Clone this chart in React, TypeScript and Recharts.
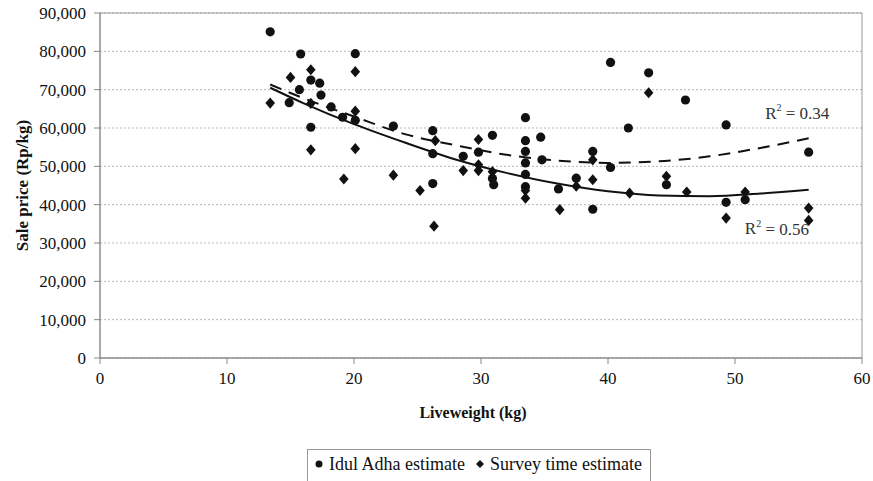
import { ScatterChart, Scatter, XAxis, YAxis, CartesianGrid, ReferenceArea, ReferenceDot } from "recharts";

// liveweight (kg), sale price (Rp/kg)
const idulAdhaPoints: [number, number][] = [
  [13.4, 85100], [15.8, 79300], [20.1, 79400], [16.6, 72500], [17.3, 71700],
  [15.7, 70000], [17.4, 68600], [14.9, 66600], [18.2, 65500], [16.6, 60200],
  [20.1, 62000], [19.1, 62800], [23.1, 60500], [26.2, 59300], [26.2, 53300],
  [26.2, 45500], [28.6, 52600], [29.8, 53700], [30.9, 58100], [30.9, 46800],
  [31.0, 45200], [33.5, 62700], [33.5, 56700], [33.5, 53900], [33.5, 50900],
  [33.5, 47900], [33.5, 44700], [34.7, 57600], [34.8, 51700], [36.1, 44100],
  [37.5, 46900], [38.8, 53900], [38.8, 38800], [40.2, 77100], [40.2, 49700],
  [41.6, 60000], [43.2, 74400], [44.6, 45200], [46.1, 67300], [49.3, 60800],
  [49.3, 40600], [50.8, 41300], [55.8, 53700],
];

const surveyPoints: [number, number][] = [
  [13.4, 66500], [15.0, 73200], [16.6, 75200], [16.6, 66400], [16.6, 54300],
  [20.1, 74700], [20.1, 64400], [20.1, 54600], [19.2, 46700], [23.1, 47700],
  [25.2, 43700], [26.3, 34400], [26.4, 56700], [28.6, 48900], [29.8, 57000],
  [29.8, 50400], [29.8, 48900], [30.9, 48600], [33.5, 43700], [33.5, 41700],
  [36.2, 38700], [37.5, 44800], [38.8, 46500], [38.8, 51700], [41.7, 43000],
  [43.2, 69200], [44.6, 47400], [46.2, 43300], [49.3, 36500], [50.8, 43300],
  [55.8, 39100], [55.8, 35900],
];

// trend curves
const trendWeights = [13.4, 16, 20, 24, 28, 32, 36, 40, 44, 48, 52, 55.8];
const trendSolid = [70500, 66500, 61000, 56200, 51800, 48300, 45500, 43500, 42400, 42200, 42900, 43900];
const trendDashed = [71350, 67800, 63000, 58400, 55500, 53000, 51500, 50900, 51300, 52600, 54800, 57300];

const xTicks = [0, 10, 20, 30, 40, 50, 60];
const yTicks = [0, 10000, 20000, 30000, 40000, 50000, 60000, 70000, 80000, 90000];

const FONT = "Liberation Serif, DejaVu Serif, serif";

const toXY = (pts: [number, number][]) => pts.map(([x, y]) => ({ x, y }));
const idulData = toXY(idulAdhaPoints);
const surveyData = toXY(surveyPoints);
const solidData = trendWeights.map((x, i) => ({ x, y: trendSolid[i] }));
const dashedData = trendWeights.map((x, i) => ({ x, y: trendDashed[i] }));

const Dot = (p: any) => <circle cx={p.cx} cy={p.cy} r={4.6} fill="#111" />;
const Diamond = (p: any) => (
  <path d={`M${p.cx},${p.cy - 5.6}L${p.cx + 4.8},${p.cy}L${p.cx},${p.cy + 5.6}L${p.cx - 4.8},${p.cy}Z`} fill="#111" />
);
const NoShape = () => <g />;

const rLabel = (value: string) => (props: any) => {
  const { viewBox } = props;
  return (
    <text x={viewBox.x} y={viewBox.y} textAnchor="middle" dominantBaseline="central" fontFamily={FONT} fontSize={17} fill="#333">
      R<tspan dy={-6} fontSize={10}>2</tspan>
      <tspan dy={6}>{" = " + value}</tspan>
    </text>
  );
};

const yTitle = (props: any) => {
  const { viewBox } = props;
  const cx = 22;
  const cy = viewBox.y + viewBox.height / 2;
  return (
    <text x={cx} y={cy} transform={`rotate(-90, ${cx}, ${cy})`} textAnchor="middle" dominantBaseline="central"
      fontFamily={FONT} fontSize={17} fontWeight="bold" fill="#111">
      Sale price (Rp/kg)
    </text>
  );
};

export default function App() {
  return (
    <div style={{ position: "absolute", left: 0, top: 0, width: 873, height: 481, overflow: "hidden", background: "#fff", fontFamily: FONT }}>
      <ScatterChart width={873} height={481} margin={{ top: 13, right: 11, bottom: 53, left: 0 }}>
        <CartesianGrid vertical={false} stroke="#b5b5b5" strokeDasharray="2 2" />
        <XAxis
          type="number"
          dataKey="x"
          domain={[0, 60]}
          ticks={xTicks}
          height={70}
          axisLine={{ stroke: "#888" }}
          tickLine={{ stroke: "#888" }}
          tickSize={6}
          tickMargin={8}
          tick={{ fill: "#111", fontSize: 17, fontFamily: FONT }}
          label={{ value: "Liveweight (kg)", position: "insideBottom", offset: 10, dx: -8, fill: "#111", fontSize: 16, fontWeight: "bold", fontFamily: FONT }}
        />
        <YAxis
          type="number"
          dataKey="y"
          domain={[0, 90000]}
          ticks={yTicks}
          width={100}
          axisLine={{ stroke: "#888" }}
          tickLine={{ stroke: "#888" }}
          tickSize={6}
          tickMargin={8}
          tickFormatter={(v: number) => v.toLocaleString("en-US")}
          tick={{ fill: "#111", fontSize: 17, fontFamily: FONT }}
          label={{ content: yTitle }}
        />
        <ReferenceArea x1={0} x2={60} y1={0} y2={90000} fill="none" stroke="#999" strokeWidth={1} />
        <Scatter data={dashedData} shape={NoShape} line={{ stroke: "#111", strokeWidth: 2, strokeDasharray: "12 8" }} lineJointType="monotoneX" isAnimationActive={false} />
        <Scatter data={solidData} shape={NoShape} line={{ stroke: "#111", strokeWidth: 2 }} lineJointType="monotoneX" isAnimationActive={false} />
        <Scatter name="Idul Adha estimate" data={idulData} shape={Dot} isAnimationActive={false} />
        <Scatter name="Survey time estimate" data={surveyData} shape={Diamond} isAnimationActive={false} />
        <ReferenceDot x={54.9} y={63900} r={0} fill="none" stroke="none" label={{ content: rLabel("0.34") }} />
        <ReferenceDot x={53.3} y={33700} r={0} fill="none" stroke="none" label={{ content: rLabel("0.56") }} />
      </ScatterChart>
      <div style={{ position: "absolute", left: 307, top: 449, width: 344, height: 40, border: "1px solid #999", boxSizing: "border-box", display: "flex", alignItems: "flex-start", paddingTop: 4, paddingLeft: 6, fontSize: 18, color: "#111", whiteSpace: "nowrap" }}>
        <svg width={10} height={20} style={{ marginRight: 5 }}>
          <circle cx={5} cy={10} r={3.5} fill="#111" />
        </svg>
        <span style={{ marginRight: 10 }}>Idul Adha estimate</span>
        <svg width={10} height={20} style={{ marginRight: 5 }}>
          <path d="M5,6L9,10L5,14L1,10Z" fill="#111" />
        </svg>
        <span>Survey time estimate</span>
      </div>
    </div>
  );
}
